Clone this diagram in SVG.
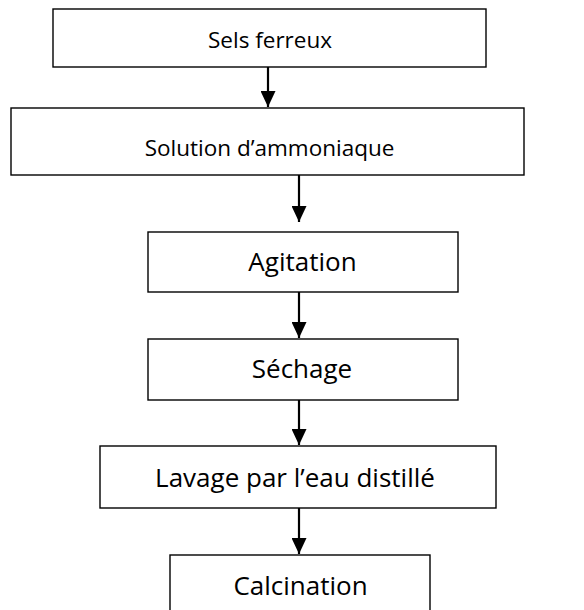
<svg xmlns="http://www.w3.org/2000/svg" width="584" height="610" viewBox="0 0 584 610">
<style>
.box{fill:#fff;stroke:#000;stroke-width:1.4}
.lbl{font-family:"Open Sans","Noto Sans",sans-serif;font-size:26px;fill:#000;text-anchor:middle}
.sm{font-size:22.5px}
.arr{stroke:#000;stroke-width:2.2;fill:none}
</style>
<defs>
<marker id="ah" markerUnits="userSpaceOnUse" markerWidth="16" markerHeight="15" refX="16" refY="7.5" orient="auto" viewBox="0 0 16 15">
<path d="M0,0 L16,7.5 L0,15 Z" fill="#000"/>
</marker>
</defs>
<rect width="584" height="610" fill="#fff"/>
<g id="connectors">
<line class="arr" x1="268" y1="67" x2="268" y2="107" marker-end="url(#ah)"/>
<line class="arr" x1="299" y1="175" x2="299" y2="222" marker-end="url(#ah)"/>
<line class="arr" x1="299" y1="292" x2="299" y2="338" marker-end="url(#ah)"/>
<line class="arr" x1="299" y1="400" x2="299" y2="445" marker-end="url(#ah)"/>
<line class="arr" x1="299" y1="508" x2="299" y2="554" marker-end="url(#ah)"/>
</g>
<g id="n1"><rect class="box" x="53" y="9" width="433" height="58"/><text class="lbl sm" x="270" y="48">Sels ferreux</text></g>
<g id="n2"><rect class="box" x="11" y="108" width="513" height="67"/><text class="lbl sm" x="269.5" y="156">Solution d’ammoniaque</text></g>
<g id="n3"><rect class="box" x="148" y="232" width="310" height="60"/><text class="lbl" x="302.5" y="271">Agitation</text></g>
<g id="n4"><rect class="box" x="148" y="339" width="310" height="61"/><text class="lbl" x="302" y="378">Séchage</text></g>
<g id="n5"><rect class="box" x="100" y="446" width="396" height="62"/><text class="lbl" x="295" y="487">Lavage par l’eau distillé</text></g>
<g id="n6"><rect class="box" x="170" y="555" width="260" height="70"/><text class="lbl" x="300.5" y="595">Calcination</text></g>
</svg>
